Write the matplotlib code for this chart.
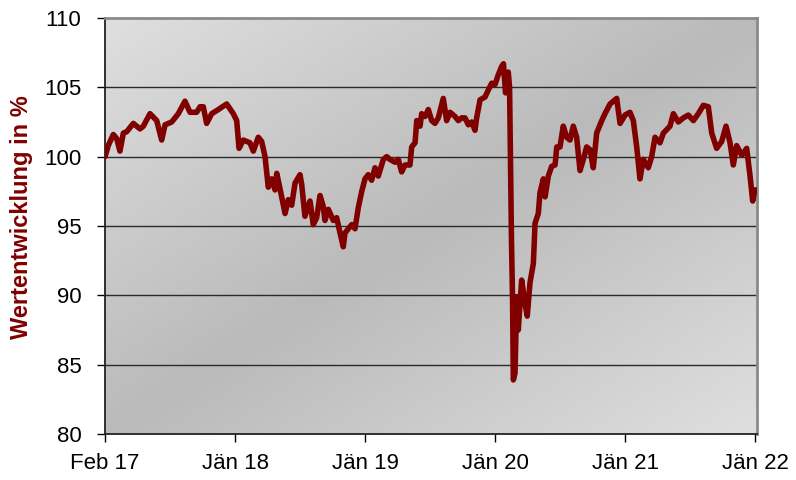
import numpy as np
import matplotlib
matplotlib.use("Agg")
import matplotlib.pyplot as plt

# years since Feb 2017
years = [0.000, 0.025, 0.064, 0.090, 0.115, 0.141, 0.167, 0.218, 0.269, 0.295,
         0.346, 0.398, 0.436, 0.462, 0.513, 0.564, 0.615, 0.654, 0.705, 0.731,
         0.756, 0.782, 0.821, 0.872, 0.936, 0.987, 1.013, 1.031, 1.064, 1.115,
         1.141, 1.179, 1.205, 1.231, 1.256, 1.282, 1.308, 1.321, 1.346, 1.385,
         1.410, 1.436, 1.462, 1.500, 1.513, 1.538, 1.577, 1.602, 1.628, 1.654,
         1.679, 1.692, 1.718, 1.756, 1.782, 1.808, 1.833, 1.846, 1.872, 1.898,
         1.923, 1.948, 1.975, 2.000, 2.025, 2.051, 2.077, 2.102, 2.141, 2.167,
         2.192, 2.231, 2.256, 2.282, 2.308, 2.346, 2.359, 2.385, 2.398, 2.423,
         2.436, 2.462, 2.487, 2.513, 2.538, 2.564, 2.602, 2.628, 2.654, 2.692,
         2.718, 2.744, 2.769, 2.795, 2.821, 2.846, 2.859, 2.885, 2.923, 2.948,
         2.975, 3.000, 3.025, 3.051, 3.065, 3.081, 3.102, 3.112, 3.127, 3.135,
         3.141, 3.154, 3.167, 3.179, 3.205, 3.231, 3.248, 3.269, 3.295, 3.308,
         3.333, 3.346, 3.372, 3.385, 3.410, 3.436, 3.462, 3.475, 3.500, 3.525,
         3.551, 3.577, 3.602, 3.628, 3.654, 3.679, 3.705, 3.731, 3.756, 3.782,
         3.821, 3.846, 3.885, 3.936, 3.962, 4.000, 4.038, 4.064, 4.090, 4.115,
         4.141, 4.179, 4.205, 4.231, 4.269, 4.295, 4.346, 4.372, 4.410, 4.449,
         4.487, 4.526, 4.564, 4.602, 4.641, 4.667, 4.705, 4.744, 4.777, 4.808,
         4.833, 4.859, 4.898, 4.936, 4.962, 4.982, 5.000, 5.012]

werte = [100.0, 100.8, 101.6, 101.3, 100.4, 101.7, 101.8, 102.4, 102.0, 102.2,
         103.1, 102.6, 101.2, 102.3, 102.5, 103.1, 104.0, 103.2, 103.2, 103.6,
         103.6, 102.4, 103.1, 103.4, 103.8, 103.1, 102.6, 100.6, 101.2, 101.0,
         100.4, 101.4, 101.1, 100.0, 97.8, 98.4, 97.6, 98.8, 97.7, 95.9,
         96.9, 96.5, 98.1, 98.7, 98.0, 95.7, 96.8, 95.1, 95.6, 97.2,
         96.4, 95.4, 96.2, 95.4, 95.6, 94.5, 93.5, 94.5, 94.8, 95.1,
         94.8, 96.3, 97.5, 98.4, 98.7, 98.3, 99.2, 98.6, 99.8, 100.0,
         99.8, 99.6, 99.8, 98.9, 99.4, 99.4, 100.7, 101.0, 102.6, 102.2,
         103.1, 102.9, 103.4, 102.6, 102.4, 102.8, 104.2, 102.6, 103.2, 102.9,
         102.6, 102.8, 102.8, 102.3, 102.5, 101.9, 102.8, 104.1, 104.3, 104.8,
         105.3, 105.2, 105.9, 106.5, 106.7, 104.6, 106.1, 105.0, 93.8, 89.7,
         83.9, 84.4, 89.9, 87.5, 91.1, 89.4, 88.5, 90.9, 92.3, 95.2,
         95.9, 97.4, 98.4, 97.1, 98.6, 99.3, 99.4, 100.7, 100.7, 102.2,
         101.4, 101.2, 102.2, 101.4, 99.0, 99.8, 100.7, 100.5, 99.2, 101.7,
         102.6, 103.1, 103.8, 104.2, 102.4, 103.0, 103.2, 102.6, 100.7, 98.4,
         99.8, 99.2, 100.0, 101.4, 101.0, 101.7, 102.2, 103.1, 102.5, 102.8,
         103.0, 102.6, 103.1, 103.7, 103.6, 101.7, 100.6, 101.1, 102.2, 101.0,
         99.4, 100.8, 100.1, 100.6, 98.6, 96.8, 97.6, 97.6]

tick_pos = [0, 1, 2, 3, 4, 5]
tick_labels = ["Feb 17", "Jän 18", "Jän 19", "Jän 20", "Jän 21", "Jän 22"]
y_ticks = [80, 85, 90, 95, 100, 105, 110]

plt.rcParams['font.family'] = ['Liberation Sans', 'DejaVu Sans']

fig = plt.figure(figsize=(7.96, 4.8), dpi=100)
fig.patch.set_facecolor('white')
ax = fig.add_axes([105/796, 46/480, 651.7/796, 416/480])

# diagonal gradient background
n = 300
u = np.linspace(0, 1, n)
v = np.linspace(0, 1, n)
U, V = np.meshgrid(u, v)  # V=0 at top
t = (U + V) / 2.0
light, dark = 223/255, 186/255
g = light + (dark - light) * (1 - np.abs(2 * t - 1))
img = np.dstack([g, g, g])
ax.imshow(img, extent=[0, 1, 0, 1], transform=ax.transAxes, aspect='auto',
          origin='upper', zorder=0, interpolation='bilinear')

for yv in y_ticks[1:-1]:
    ax.axhline(yv, color='#2a2a2a', lw=1.0, zorder=1)

ax.plot(years, werte, color='#800000', lw=4.0, solid_joinstyle='round',
        solid_capstyle='round', zorder=3, clip_on=True)

ax.set_xlim(0, 5.013)
ax.set_ylim(80, 110)
ax.set_xticks(tick_pos)
ax.set_xticklabels(tick_labels)
ax.set_yticks(y_ticks)
ax.tick_params(axis='both', direction='out', length=6, width=1.0,
               labelsize=16, colors='black')
ax.tick_params(axis='y', pad=11)
ax.tick_params(axis='x', pad=8)

for s in ['left', 'bottom']:
    ax.spines[s].set_color('#222222')
    ax.spines[s].set_linewidth(1.3)
for s in ['top', 'right']:
    ax.spines[s].set_color('#8a8a8a')
    ax.spines[s].set_linewidth(2.0)

fig.text(22/796, 1 - 217/480, "Wertentwicklung in %", rotation=90,
         ha='center', va='center', fontsize=17, fontweight='bold',
         color='#800000')

fig.savefig('out.png', dpi=100)
